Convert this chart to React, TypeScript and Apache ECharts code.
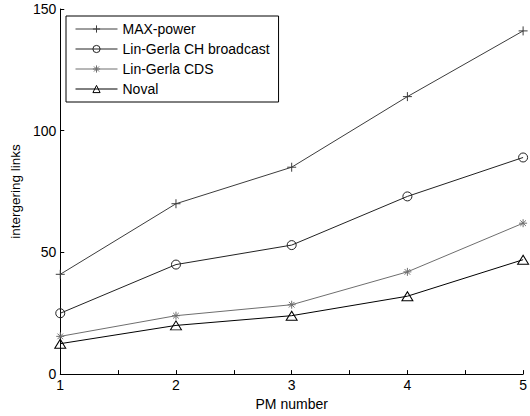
import React, { useEffect, useRef } from "react";
import * as echarts from "echarts";

const pmNumbers = [1, 2, 3, 4, 5];
const maxPower = [41, 70, 85, 114, 141];
const linGerlaCH = [25, 45, 53, 73, 89];
const linGerlaCDS = [15.5, 24, 28.5, 42, 62];
const noval = [12.5, 20, 24, 32, 47];
const seriesNames = ["MAX-power", "Lin-Gerla CH broadcast", "Lin-Gerla CDS", "Noval"];

const plusPath = "path://M5,0 L5,10 M0,5 L10,5";
const starPath = "path://M5,0 L5,10 M0,5 L10,5 M1.5,1.5 L8.5,8.5 M8.5,1.5 L1.5,8.5";
const circlePath = "path://M10,5 A5,5 0 1,1 0,5 A5,5 0 1,1 10,5 Z";
const trianglePath = "path://M5,0 L10,8.5 L0,8.5 Z";

const font = "'Liberation Sans', Arial, sans-serif";

export default function App() {
  const ref = useRef<HTMLDivElement>(null);
  useEffect(() => {
    if (!ref.current) return;
    const chart = echarts.init(ref.current, undefined, { renderer: "svg" });
    const pts = (arr: number[]) => pmNumbers.map((x, i) => [x, arr[i]]);
    const mk = (name: string, data: number[], color: string, symbol: string, size: number | number[]) => ({
      name,
      type: "line",
      data: pts(data),
      symbol,
      symbolSize: size,
      showAllSymbol: true,
      lineStyle: { color, width: 1 },
      itemStyle: { color: "rgba(255,255,255,0)", borderColor: color, borderWidth: 1 },
      emphasis: { disabled: true },
    });
    chart.setOption({
      animation: false,
      textStyle: { fontFamily: font },
      grid: { left: 56, top: 9, right: 2, bottom: 41, containLabel: false },
      legend: {
        orient: "vertical",
        left: 66,
        top: 16,
        padding: [6, 9, 6, 9],
        itemGap: 6,
        itemWidth: 42,
        itemHeight: 9,
        borderColor: "#000",
        borderWidth: 1,
        backgroundColor: "#fff",
        itemStyle: { borderWidth: 1 },
        lineStyle: { width: 1 },
        textStyle: { fontFamily: font, fontSize: 14, color: "#000" },
        data: seriesNames,
      },
      xAxis: {
        type: "value",
        min: 1,
        max: 5,
        interval: 0.5,
        name: "PM number",
        nameLocation: "middle",
        nameGap: 22,
        nameTextStyle: { fontFamily: font, fontSize: 14, color: "#000" },
        axisLine: { lineStyle: { color: "#000", width: 1 } },
        axisTick: { inside: true, length: 4, lineStyle: { color: "#000" } },
        axisLabel: {
          fontFamily: font,
          fontSize: 14,
          color: "#000",
          margin: 4,
          formatter: (v: number) => (Number.isInteger(v) ? String(v) : ""),
        },
        splitLine: { show: false },
      },
      yAxis: {
        type: "value",
        min: 0,
        max: 150,
        interval: 50,
        name: "intergering links",
        nameLocation: "middle",
        nameGap: 36,
        nameTextStyle: { fontFamily: font, fontSize: 13.5, color: "#000" },
        axisLine: { show: true, lineStyle: { color: "#000", width: 1 } },
        axisTick: { show: true, inside: true, length: 4, lineStyle: { color: "#000" } },
        axisLabel: { fontFamily: font, fontSize: 14, color: "#000", margin: 4 },
        splitLine: { show: false },
      },
      series: [
        mk(seriesNames[0], maxPower, "#3c3c3c", plusPath, 9),
        mk(seriesNames[1], linGerlaCH, "#222222", circlePath, 9),
        mk(seriesNames[2], linGerlaCDS, "#6e6e6e", starPath, 8),
        mk(seriesNames[3], noval, "#000000", trianglePath, [11, 9]),
      ],
    });
    return () => chart.dispose();
  }, []);
  return (
    <div
      ref={ref}
      style={{ position: "fixed", left: 0, top: 0, width: 530, height: 416, background: "#fff" }}
    />
  );
}
